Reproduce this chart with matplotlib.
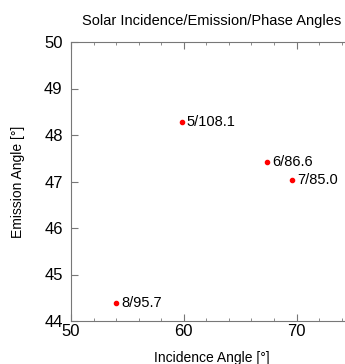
""" solar angles scatter """
from matplotlib import pyplot as plt
from matplotlib.ticker import MultipleLocator

plt.rcParams["font.family"] = ["Liberation Sans", "DejaVu Sans"]

incidence = [59.8, 67.4, 69.6, 54.0]
emission = [48.28, 47.43, 47.04, 44.39]
labels = ["5/108.1", "6/86.6", "7/85.0", "8/95.7"]

fig = plt.figure(figsize=(3.45, 3.64), dpi=100)
# right edge runs off the figure like in the original
ax = fig.add_axes([71 / 345, 43 / 364, 282 / 345, 279 / 364])

ax.scatter(incidence, emission, s=9, color="red", zorder=3)
for x, y, t in zip(incidence, emission, labels):
    ax.annotate(t, (x, y), xytext=(3.5, 0), textcoords="offset points",
                va="center", ha="left", fontsize=10.5)

ax.set_xlim(50, 75)
ax.set_ylim(44, 50)
ax.xaxis.set_major_locator(MultipleLocator(10))
ax.xaxis.set_minor_locator(MultipleLocator(2))
ax.yaxis.set_major_locator(MultipleLocator(1))

ax.spines["right"].set_visible(False)
for s in ["left", "top", "bottom"]:
    ax.spines[s].set_color("#777777")
ax.tick_params(which="both", direction="in", top=True, color="#777777",
               labelsize=12)
ax.tick_params(axis="y", pad=6)
ax.tick_params(axis="x", pad=2)
ax.tick_params(which="major", length=5)
ax.tick_params(which="minor", length=2.5)

ax.set_xlabel("Incidence Angle [°]", fontsize=10, labelpad=9)
ax.set_ylabel("Emission Angle [°]", fontsize=10, labelpad=14)
ax.set_title("Solar Incidence/Emission/Phase Angles", fontsize=10.5, pad=12)

fig.savefig("out.png", dpi=100)
